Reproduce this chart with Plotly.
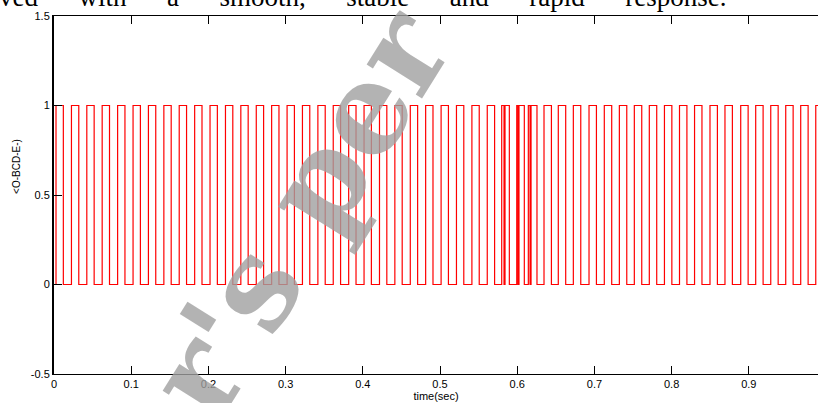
import plotly.graph_objects as go

# pulse edges (seconds)
rise_times = [0.0026, 0.0226, 0.0425, 0.0624, 0.0824, 0.1024, 0.1223, 0.1423, 0.1622, 0.1822,
              0.2021, 0.2221, 0.2420, 0.2620, 0.2819, 0.3019, 0.3218, 0.3418, 0.3617, 0.3817,
              0.4016, 0.4216, 0.4415, 0.4615, 0.4814, 0.5014, 0.5213, 0.5413, 0.5612,
              0.5799, 0.5842, 0.5994, 0.6023, 0.6144, 0.6179,
              0.6347, 0.6532, 0.6727, 0.6930, 0.7128, 0.7323, 0.7517, 0.7711, 0.7907, 0.8102,
              0.8297, 0.8497, 0.8691, 0.8895, 0.9089, 0.9284, 0.9478, 0.9672, 0.9867]
fall_times = [0.0121, 0.0321, 0.0520, 0.0719, 0.0919, 0.1119, 0.1318, 0.1518, 0.1717, 0.1917,
              0.2116, 0.2316, 0.2515, 0.2715, 0.2914, 0.3114, 0.3313, 0.3513, 0.3712, 0.3912,
              0.4111, 0.4311, 0.4510, 0.4710, 0.4909, 0.5109, 0.5308, 0.5508, 0.5707,
              0.5829, 0.5898, 0.6010, 0.6092, 0.6166, 0.6256,
              0.6443, 0.6628, 0.6823, 0.7026, 0.7224, 0.7419, 0.7613, 0.7807, 0.8003, 0.8198,
              0.8393, 0.8593, 0.8787, 0.8991, 0.9185, 0.9380, 0.9574, 0.9768, 0.9963]
low_level = 0
high_level = 1
x_end = 1.0

x_ticks = [0, 0.1, 0.2, 0.3, 0.4, 0.5, 0.6, 0.7, 0.8, 0.9]
x_tick_labels = ["0", "0.1", "0.2", "0.3", "0.4", "0.5", "0.6", "0.7", "0.8", "0.9"]
y_ticks = [-0.5, 0, 0.5, 1, 1.5]
y_tick_labels = ["-0.5", "0", "0.5", "1", "1.5"]

header_words = ["ved", "with", "a", "smooth,", "stable", "and", "rapid", "response."]

xs, ys = [0], [low_level]
for r, f in zip(rise_times, fall_times):
    xs += [r, r, f, f]
    ys += [low_level, high_level, high_level, low_level]
xs.append(x_end)
ys.append(low_level)

fig = go.Figure()
fig.add_trace(go.Scatter(x=xs, y=ys, mode="lines",
                         line=dict(color="#ff0000", width=1.2), hoverinfo="skip",
                         showlegend=False))

tick_font = dict(family="Liberation Sans Narrow, Arial Narrow, Liberation Sans, Arial", size=11, color="#000")

fig.update_layout(
    width=818, height=403,
    margin=dict(l=54, r=0, t=16, b=29),
    paper_bgcolor="white", plot_bgcolor="white",
    xaxis=dict(range=[0, 0.9896], tickvals=x_ticks, ticktext=x_tick_labels,
               ticks="inside", ticklen=8, tickwidth=1, tickcolor="#000",
               showline=True, linecolor="#000", linewidth=1, mirror="ticks",
               showgrid=False, zeroline=False, tickfont=tick_font,
               title=dict(text="time(sec)", font=tick_font, standoff=2)),
    yaxis=dict(range=[-0.5, 1.5], tickvals=y_ticks, ticktext=y_tick_labels,
               ticks="inside", ticklen=8, tickwidth=1, tickcolor="#000",
               showline=True, linecolor="#000", linewidth=2, mirror=False,
               showgrid=False, zeroline=False, tickfont=tick_font),
)

# y label (rotated)
fig.add_annotation(text="<O-BCD-E-)", xref="paper", yref="paper", x=-0.049, y=0.58,
                   textangle=-90, showarrow=False, xanchor="center", yanchor="middle",
                   font=dict(family="Liberation Sans Narrow, Liberation Sans", size=10, color="#000"))

# clipped, justified document text at the top
gap = "\u00a0" * 6
fig.add_annotation(text=gap.join(header_words), xref="paper", yref="paper",
                   x=-0.075, y=1.0, yshift=2, xanchor="left", yanchor="bottom", showarrow=False,
                   font=dict(family="Liberation Serif, Times New Roman", size=27, color="#000"))

# watermark
fig.add_annotation(text="r's per", xref="paper", yref="paper", x=0.32, y=0.45,
                   textangle=-58, showarrow=False, xanchor="center", yanchor="middle",
                   font=dict(family="DejaVu Serif", size=125, color="rgba(160,160,160,0.8)",
                             weight="bold"))

fig.write_html("out.html")
